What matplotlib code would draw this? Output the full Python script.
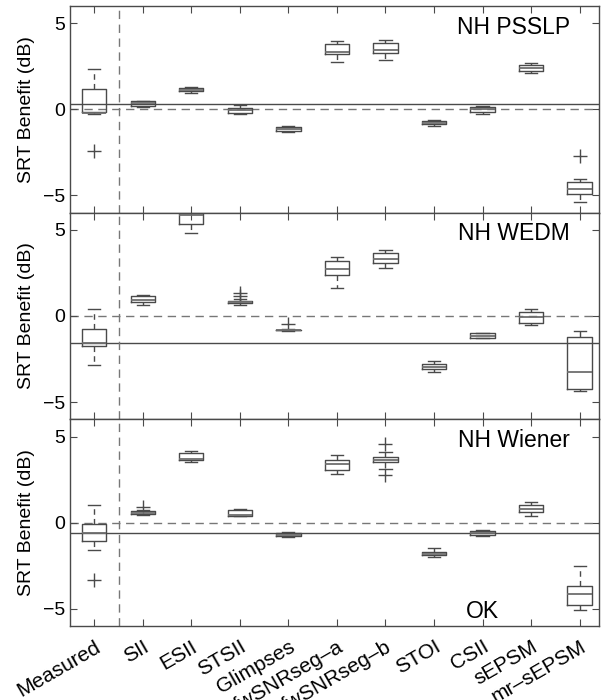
import matplotlib
matplotlib.use("Agg")
import matplotlib.pyplot as plt

plt.rcParams['font.family'] = ['Liberation Sans', 'DejaVu Sans']

categories = ["Measured", "SII", "ESII", "STSII", "Glimpses", "fwSNRseg–a",
              "fwSNRseg–b", "STOI", "CSII", "sEPSM", "mr–sEPSM"]
panel_titles = ["NH PSSLP", "NH WEDM", "NH Wiener"]

# --- NH PSSLP ---
psslp_whislo = [-0.30, 0.16, 0.97, -0.27, -1.32, 2.75, 2.87, -0.95, -0.25, 2.13, -5.39]
psslp_q1 = [-0.16, 0.21, 1.09, -0.19, -1.28, 3.24, 3.27, -0.87, -0.14, 2.23, -4.90]
psslp_med = [-0.20, 0.35, 1.15, -0.02, -1.15, 3.35, 3.47, -0.78, 0.02, 2.40, -4.65]
psslp_q3 = [1.20, 0.47, 1.24, 0.10, -1.05, 3.82, 3.86, -0.70, 0.13, 2.56, -4.22]
psslp_whishi = [2.33, 0.50, 1.32, 0.25, -0.99, 3.99, 4.01, -0.64, 0.19, 2.69, -4.05]
psslp_fliers = [[-2.42], [], [], [], [], [], [], [], [], [], [-2.73]]
psslp_ref = 0.33

# --- NH WEDM ---
wedm_whislo = [-2.87, 0.62, 4.81, 0.62, -0.86, 1.63, 2.77, -3.27, -1.30, -0.51, -4.36]
wedm_q1 = [-1.73, 0.81, 5.37, 0.76, -0.84, 2.37, 3.06, -3.10, -1.28, -0.43, -4.26]
wedm_med = [-1.55, 0.93, 5.89, 0.80, -0.83, 2.73, 3.30, -2.95, -1.15, -0.04, -3.27]
wedm_q3 = [-0.74, 1.15, 6.50, 0.87, -0.81, 3.18, 3.65, -2.79, -1.01, 0.25, -1.20]
wedm_whishi = [0.39, 1.24, 7.00, 0.99, -0.78, 3.43, 3.84, -2.60, -0.96, 0.39, -0.87]
wedm_fliers = [[], [], [], [1.15, 1.35], [-0.47], [], [], [], [], [], []]
wedm_ref = -1.55

# --- NH Wiener ---
wiener_whislo = [-1.56, 0.43, 3.53, 0.36, -0.85, 2.83, 3.10, -2.00, -0.77, 0.36, -5.09]
wiener_q1 = [-1.08, 0.50, 3.64, 0.38, -0.79, 3.06, 3.53, -1.89, -0.73, 0.61, -4.78]
wiener_med = [-0.62, 0.57, 3.72, 0.42, -0.70, 3.41, 3.65, -1.80, -0.60, 0.81, -4.14]
wiener_q3 = [-0.06, 0.65, 4.06, 0.73, -0.60, 3.66, 3.79, -1.70, -0.49, 1.04, -3.67]
wiener_whishi = [1.02, 0.75, 4.16, 0.81, -0.54, 3.95, 4.10, -1.47, -0.43, 1.19, -2.54]
wiener_fliers = [[-3.30], [0.90], [], [], [], [], [4.55, 2.75], [], [], [], []]
wiener_ref = -0.62

panels = [
    (psslp_whislo, psslp_q1, psslp_med, psslp_q3, psslp_whishi, psslp_fliers, psslp_ref),
    (wedm_whislo, wedm_q1, wedm_med, wedm_q3, wedm_whishi, wedm_fliers, wedm_ref),
    (wiener_whislo, wiener_q1, wiener_med, wiener_q3, wiener_whishi, wiener_fliers, wiener_ref),
]

edge = '#4a4a4a'
fig, axes = plt.subplots(3, 1, figsize=(6.05, 7.0), dpi=100, sharex=True)
fig.subplots_adjust(left=70/605, right=599/605, top=1-6/700, bottom=1-626/700, hspace=0)

positions = list(range(1, len(categories) + 1))
for ax, (wl, q1, med, q3, wh, fl, ref), title in zip(axes, panels, panel_titles):
    stats = []
    for i in range(len(categories)):
        stats.append(dict(whislo=wl[i], q1=q1[i], med=med[i], q3=q3[i],
                          whishi=wh[i], fliers=fl[i]))
    ax.bxp(stats, positions=positions, widths=0.5, capwidths=0.25,
           boxprops=dict(color=edge, lw=1.0),
           whiskerprops=dict(color=edge, lw=1.0, linestyle=(0, (4, 3))),
           capprops=dict(color=edge, lw=1.0),
           medianprops=dict(color='#6e6e6e', lw=1.3),
           flierprops=dict(marker='+', markersize=10, markeredgecolor=edge,
                           markeredgewidth=1.0, linestyle='none'),
           manage_ticks=False)
    ax.axhline(ref, color=edge, lw=1.0, zorder=0)
    ax.axhline(0, color='#777777', lw=1.0, ls=(0, (6, 4)), zorder=0)
    ax.axvline(1.5, color='#777777', lw=1.0, ls=(0, (6, 4)), zorder=0)
    ax.set_xlim(0.5, 11.4)
    ax.set_ylim(-6, 6)
    ax.set_yticks([-5, 0, 5])
    ax.set_yticklabels(['−5', '0', '5'])
    ax.tick_params(direction='in', top=True, right=True, length=5,
                   color=edge, labelsize=14, width=0.8)
    for s in ax.spines.values():
        s.set_color(edge)
        s.set_linewidth(1.0)
    ax.set_ylabel('SRT Benefit (dB)', fontsize=14)
    ax.yaxis.set_label_coords(-0.066, 0.5)
    ax.text(0.945, 0.898, title, transform=ax.transAxes, ha='right', va='center',
            fontsize=16.5)

axes[2].text(9.0, -5.15, 'OK', ha='center', va='center', fontsize=16.5)
axes[2].set_xticks(positions)
axes[2].set_xticklabels(categories, rotation=30, ha='right',
                        rotation_mode='anchor', fontsize=15)
axes[2].tick_params(axis='x', pad=8)

fig.savefig('out.png', dpi=100)
